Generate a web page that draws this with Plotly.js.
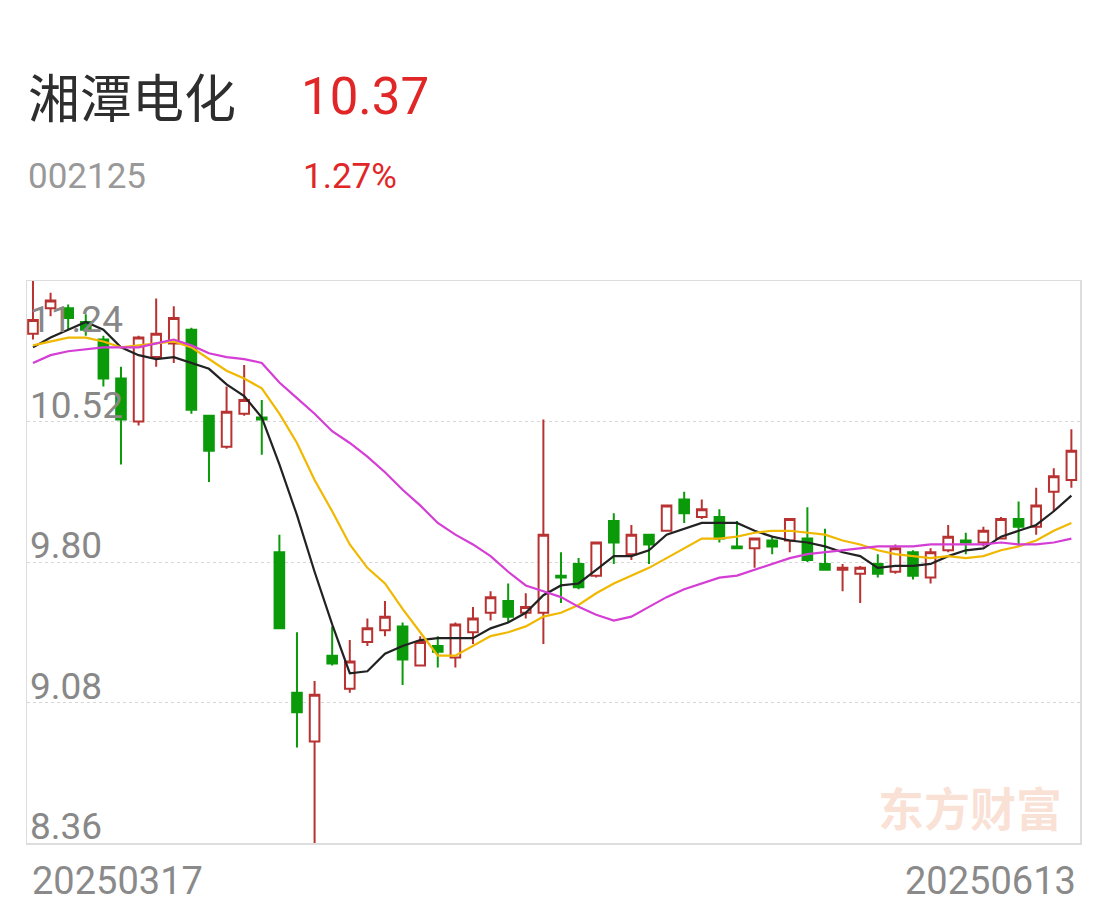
<!DOCTYPE html>
<html>
<head>
<meta charset="utf-8">
<script src="https://cdn.plot.ly/plotly-3.0.1.min.js"></script>
<style>
html,body{margin:0;padding:0;background:#fff;}
#chart{width:1108px;height:910px;}
</style>
</head>
<body>
<div id="chart"></div>
<script>
const stockName = "湘潭电化";
const stockCode = "002125";
const lastPrice = "10.37";
const changePct = "1.27%";
const watermark = "东方财富";

const dates = ["20250317","20250318","20250319","20250320","20250321","20250324","20250325","20250326","20250327","20250328","20250331",
"20250401","20250402","20250403","20250407","20250408","20250409","20250410","20250411","20250414","20250415","20250416","20250417","20250418","20250421","20250422","20250423","20250424","20250425","20250428","20250429","20250430",
"20250506","20250507","20250508","20250509","20250512","20250513","20250514","20250515","20250516","20250519","20250520","20250521","20250522","20250523","20250526","20250527","20250528","20250529","20250530",
"20250603","20250604","20250605","20250606","20250609","20250610","20250611","20250612","20250613"];

const open  = [10.97,11.10,11.10,11.03,10.94,10.74,10.52,10.85,10.92,10.99,10.55,10.39,10.56,10.54,9.85,9.13,8.88,9.32,9.15,9.39,9.45,9.47,9.27,9.37,9.31,9.44,9.54,9.60,9.54,9.54,9.73,9.79,9.73,10.01,9.84,9.94,9.96,10.12,10.03,10.03,9.88,9.87,9.91,9.91,9.92,9.79,9.76,9.74,9.79,9.75,9.85,9.72,9.86,9.91,9.90,9.92,10.02,9.98,10.16,10.22];
const high  = [11.24,11.18,11.12,11.07,10.96,10.80,10.96,11.15,11.11,11.00,10.55,10.70,10.81,10.63,9.94,9.44,9.19,9.47,9.40,9.51,9.60,9.49,9.42,9.42,9.49,9.57,9.65,9.69,9.64,10.53,9.85,9.82,9.90,10.05,9.99,9.94,10.09,10.16,10.12,10.07,10.01,9.92,9.93,10.02,10.08,9.97,9.79,9.78,9.84,9.89,9.86,9.87,9.99,9.95,9.98,10.03,10.11,10.18,10.28,10.48];
const low   = [10.94,11.06,10.99,10.96,10.70,10.30,10.50,10.80,10.82,10.56,10.21,10.38,10.55,10.35,9.46,8.85,8.36,9.27,9.13,9.37,9.42,9.17,9.27,9.26,9.26,9.38,9.50,9.49,9.51,9.38,9.59,9.66,9.72,9.79,9.81,9.79,9.96,10.00,10.02,9.90,9.87,9.77,9.84,9.85,9.80,9.76,9.65,9.59,9.72,9.74,9.71,9.69,9.85,9.84,9.88,9.92,9.88,9.94,10.06,10.18];
const close = [11.04,11.14,11.05,10.99,10.74,10.53,10.95,10.97,11.05,10.58,10.37,10.57,10.63,10.53,9.46,9.03,9.12,9.28,9.29,9.46,9.52,9.30,9.39,9.34,9.48,9.51,9.62,9.52,9.57,9.94,9.72,9.67,9.90,9.90,9.94,9.89,10.09,10.05,10.07,9.92,9.87,9.92,9.88,10.02,9.81,9.76,9.77,9.77,9.74,9.87,9.73,9.85,9.93,9.90,9.96,10.02,9.98,10.09,10.24,10.37];

const ma5  = [10.90,10.95,10.99,11.03,10.99,10.90,10.86,10.84,10.85,10.82,10.79,10.71,10.65,10.54,10.30,10.04,9.75,9.48,9.23,9.24,9.33,9.37,9.40,9.41,9.41,9.41,9.46,9.49,9.54,9.63,9.68,9.69,9.76,9.83,9.83,9.86,9.94,9.97,10.00,10.00,10.00,9.96,9.93,9.91,9.90,9.88,9.85,9.83,9.77,9.78,9.78,9.79,9.83,9.86,9.87,9.93,9.96,9.99,10.06,10.14];
const ma10 = [10.91,10.93,10.95,10.95,10.93,10.90,10.91,10.92,10.93,10.90,10.84,10.78,10.74,10.69,10.56,10.41,10.22,10.06,9.89,9.77,9.69,9.56,9.44,9.32,9.32,9.37,9.42,9.44,9.47,9.52,9.54,9.58,9.64,9.69,9.73,9.77,9.82,9.87,9.92,9.92,9.93,9.95,9.96,9.96,9.95,9.94,9.91,9.89,9.86,9.84,9.83,9.82,9.83,9.82,9.83,9.86,9.88,9.91,9.96,10.00];
const ma20 = [10.82,10.86,10.88,10.89,10.90,10.90,10.90,10.92,10.94,10.91,10.87,10.85,10.84,10.82,10.72,10.64,10.56,10.47,10.41,10.34,10.26,10.17,10.09,10.00,9.94,9.89,9.83,9.75,9.68,9.65,9.62,9.57,9.53,9.50,9.52,9.57,9.62,9.66,9.69,9.72,9.73,9.76,9.79,9.82,9.84,9.85,9.86,9.87,9.88,9.88,9.88,9.89,9.89,9.89,9.89,9.90,9.89,9.89,9.90,9.92];

const yTicks = [11.24, 10.52, 9.80, 9.08, 8.36];
const yTickLabels = ["11.24","10.52","9.80","9.08","8.36"];

const RED = "#b83232", GREEN = "#0a9a0a";
const W = 1108, H = 910, L = 27, R = 28, T = 281, B = 67;
const PW = W - L - R, PH = H - T - B;
const px = x => (x - L) / PW;
const py = y => (H - B - y) / PH;

const traces = [
  {type:"candlestick", x:dates, open:open, high:high, low:low, close:close,
   increasing:{line:{color:RED,width:2}, fillcolor:"#ffffff"},
   decreasing:{line:{color:GREEN,width:2}, fillcolor:GREEN},
   whiskerwidth:0, hoverinfo:"skip", showlegend:false},
  {type:"scatter", mode:"lines", x:dates, y:ma5, line:{color:"#222222",width:2.2}, hoverinfo:"skip", showlegend:false},
  {type:"scatter", mode:"lines", x:dates, y:ma10, line:{color:"#f0b800",width:2.2}, hoverinfo:"skip", showlegend:false},
  {type:"scatter", mode:"lines", x:dates, y:ma20, line:{color:"#d43ed4",width:2.2}, hoverinfo:"skip", showlegend:false}
];

const annotations = [];
const cjk = "'Noto Sans CJK SC', 'Noto Sans', sans-serif";
const num = "Roboto, 'Noto Sans', sans-serif";
annotations.push({xref:"paper",yref:"paper",x:px(26),y:py(96),xanchor:"left",yanchor:"middle",showarrow:false,
  text:stockName,font:{family:cjk,size:52,color:"#2e2e2e"}});
annotations.push({xref:"paper",yref:"paper",x:px(299),y:py(97),xanchor:"left",yanchor:"middle",showarrow:false,
  text:lastPrice,font:{family:num,size:51,color:"#e02626"}});
annotations.push({xref:"paper",yref:"paper",x:px(26),y:py(177),xanchor:"left",yanchor:"middle",showarrow:false,
  text:stockCode,font:{family:num,size:35,color:"#999999"}});
annotations.push({xref:"paper",yref:"paper",x:px(301),y:py(177),xanchor:"left",yanchor:"middle",showarrow:false,
  text:changePct,font:{family:num,size:35,color:"#e02626"}});
annotations.push({xref:"paper",yref:"paper",x:px(30),y:py(881),xanchor:"left",yanchor:"middle",showarrow:false,
  text:dates[0],font:{family:num,size:38,color:"#8a8a8a"}});
annotations.push({xref:"paper",yref:"paper",x:px(1078),y:py(881),xanchor:"right",yanchor:"middle",showarrow:false,
  text:dates[dates.length-1],font:{family:num,size:38,color:"#8a8a8a"}});
annotations.push({xref:"paper",yref:"paper",x:px(970),y:py(806),xanchor:"center",yanchor:"middle",showarrow:false,
  text:"<b>"+watermark+"</b>",font:{family:cjk,size:46,color:"rgba(240,150,110,0.28)"}});
yTicks.forEach((v,i)=>{
  const first = i === 0;
  annotations.push({xref:"paper",yref:"y",x:px(28),y:v,xanchor:"left",yanchor:first?"top":"bottom",
    yshift:first?-15:-7,showarrow:false,text:yTickLabels[i],
    font:{family:num,size:37,color:"#888888"}});
});

const layout = {
  width:W, height:H,
  margin:{l:L,r:R,t:T,b:B,pad:0},
  paper_bgcolor:"#ffffff", plot_bgcolor:"#ffffff",
  showlegend:false, hovermode:false, dragmode:false,
  boxgap:0.22,
  xaxis:{type:"category", range:[-0.34,59.49], showticklabels:false, showgrid:false, zeroline:false,
         showline:true, mirror:true, linecolor:"#dddddd", linewidth:1.5, ticks:"", rangeslider:{visible:false}, fixedrange:true},
  yaxis:{range:[8.36,11.24], tickvals:yTicks.slice(1,4), showticklabels:false, showgrid:true, gridcolor:"#d6d6d6",
         griddash:"dot", gridwidth:1, zeroline:false, showline:true, mirror:true, linecolor:"#dddddd", linewidth:1.5, ticks:"", fixedrange:true},
  annotations:annotations
};

Plotly.newPlot("chart", traces, layout, {displayModeBar:false, staticPlot:true});
</script>
</body>
</html>
